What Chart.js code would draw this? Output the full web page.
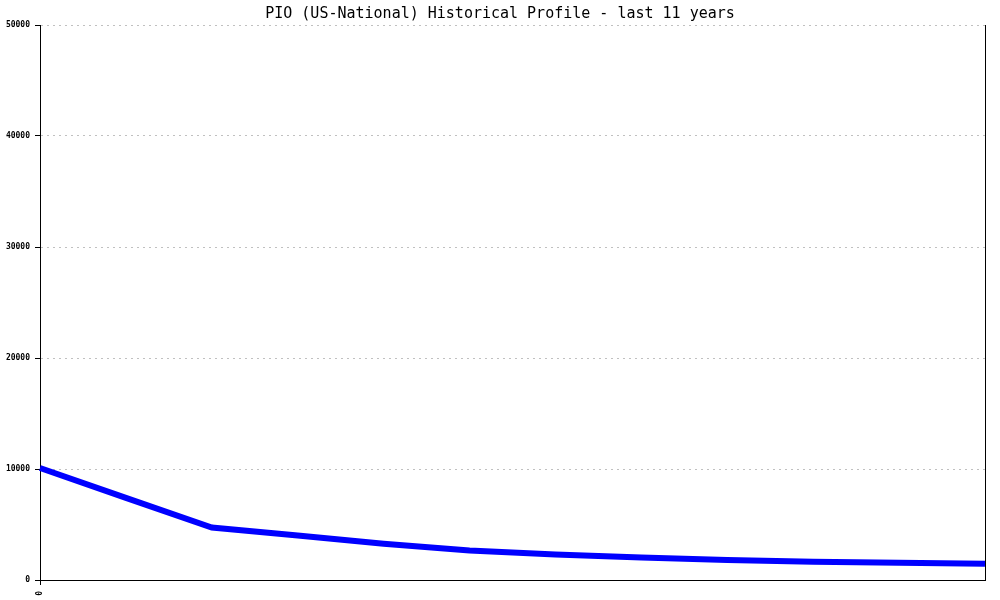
<!DOCTYPE html>
<html>
<head>
<meta charset="utf-8">
<script src="https://cdn.jsdelivr.net/npm/chart.js@4/dist/chart.umd.min.js"></script>
<style>
  html, body { margin: 0; padding: 0; background: #fff; }
  #wrap { width: 1000px; height: 600px; }
</style>
</head>
<body>
<div id="wrap"><canvas id="profileChart" width="1000" height="600"></canvas></div>
<script>
// yearly points, only the first one gets a label
const yearLabels = ['0', '1', '2', '3', '4', '5', '6', '7', '8', '9', '10', '11'];
const profileValues = [10090, 7400, 4730, 4010, 3260, 2650, 2300, 2030, 1800, 1650, 1560, 1470];
const yTicks = [0, 10000, 20000, 30000, 40000, 50000];

const monoFont = "'DejaVu Sans Mono', 'Liberation Mono', monospace";

const ctx = document.getElementById('profileChart').getContext('2d');

const chart = new Chart(ctx, {
    type: 'line',
    data: {
        labels: yearLabels,
        datasets: [{
            label: 'PIO',
            data: profileValues,
            borderColor: '#0000ff',
            borderWidth: 6,
            pointRadius: 0,
            tension: 0,
            fill: false
        }]
    },
    options: {
        responsive: false,
        animation: false,
        layout: { padding: { left: 0, right: 0, top: 0, bottom: 0 } },
        plugins: {
            legend: { display: false },
            tooltip: { enabled: false },
            title: {
                display: true,
                text: 'PIO (US-National) Historical Profile - last 11 years',
                color: '#000',
                font: { family: monoFont, size: 15, weight: 'normal' },
                padding: { top: 5, bottom: 2 }
            }
        },
        scales: {
            x: {
                type: 'category',
                offset: false,
                grid: {
                    drawOnChartArea: false,
                    tickLength: 5,
                    tickColor: '#000'
                },
                border: { color: '#000', width: 1 },
                ticks: {
                    autoSkip: false,
                    maxRotation: 90,
                    minRotation: 90,
                    padding: 6,
                    color: '#000',
                    font: { family: monoFont, size: 8, weight: 'bold' },
                    callback: function (value, index) {
                        return index === 0 ? this.getLabelForValue(value) : null;
                    }
                },
                afterFit: (scale) => { scale.height = 20; }
            },
            y: {
                min: 0,
                max: 50000,
                afterBuildTicks: (scale) => { scale.ticks = yTicks.map(v => ({ value: v })); },
                grid: {
                    color: '#c0c0c0',
                    tickColor: '#000',
                    tickLength: 5,
                    tickBorderDash: []
                },
                border: { color: '#000', width: 1, dash: [2, 4] },
                ticks: {
                    padding: 5,
                    color: '#000',
                    font: { family: monoFont, size: 8, weight: 'bold' },
                    callback: (value) => String(value)
                },
                afterFit: (scale) => { scale.width = 40; }
            },
            yRight: {
                position: 'right',
                min: 0,
                max: 50000,
                grid: { drawOnChartArea: false, drawTicks: false },
                border: { color: '#000', width: 1 },
                ticks: { display: false },
                afterFit: (scale) => { scale.width = 15; }
            }
        }
    }
});
</script>
</body>
</html>
